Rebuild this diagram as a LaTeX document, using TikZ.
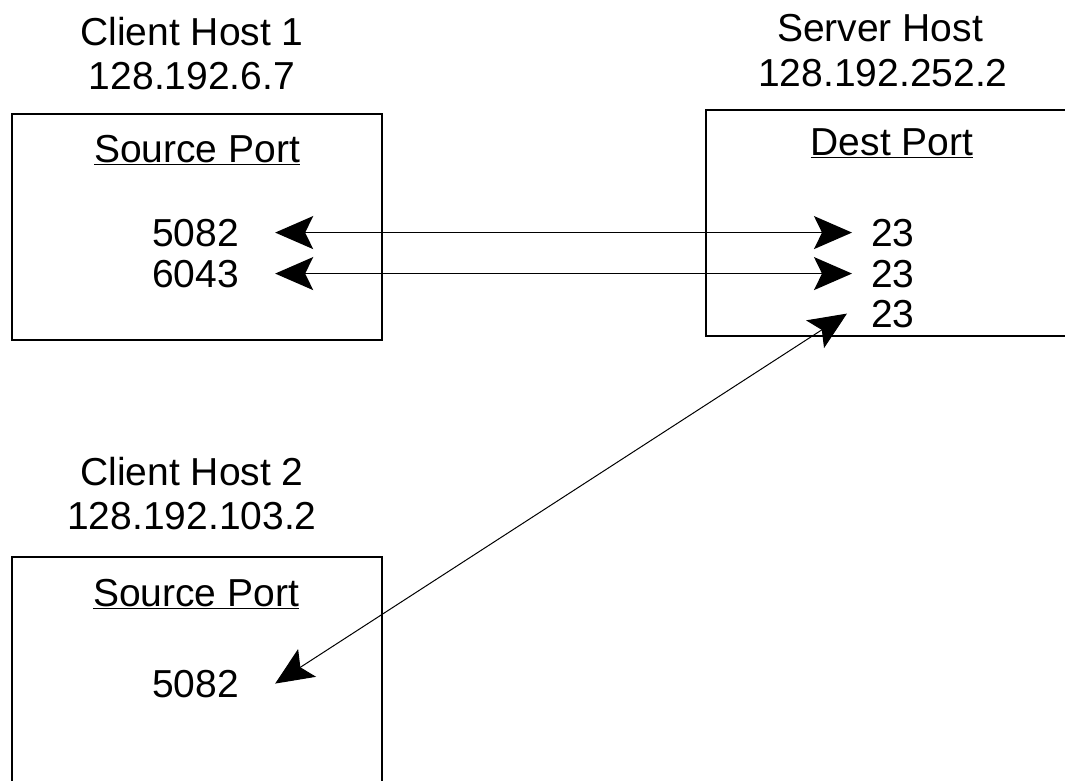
\documentclass[tikz,border=0pt]{standalone}
\usepackage{fontspec}
\setmainfont{Liberation Sans}
\usetikzlibrary{arrows.meta,positioning}
\newcommand{\portfont}{\fontsize{39}{45}\selectfont}
\tikzset{
  hostbox/.style={draw, line width=1.6pt, inner sep=0pt, anchor=north west,
                  minimum width=#1, minimum height=226pt},
  hosttxt/.style={font=\portfont, inner sep=0pt, anchor=base},
  porttxt/.style={font=\portfont, inner sep=0pt, anchor=base west},
  link/.style={{Stealth[length=38pt,width=33pt,inset=8pt]}-{Stealth[length=38pt,width=33pt,inset=8pt]},
               line width=#1},
}

\begin{document}
\begin{tikzpicture}[x=1pt, y=-1pt]
\useasboundingbox (0,0) rectangle (1065,780);

% Client host 1
\node[hosttxt] (c1name) at (192,45) {Client Host 1};
\node[hosttxt] (c1addr) at (192,89) {128.192.6.7};
\node[hostbox=370pt] (host1) at (11,113) {};
\node[hosttxt] (src1) at (197,162) {\underline{Source Port}};
\node[porttxt] (p5082) at (152,246) {5082};
\node[porttxt] (p6043) at (152,287) {6043};

% Server host
\node[hosttxt] (sname) at (880,41) {Server Host};
\node[hosttxt] (saddr) at (883,86) {128.192.252.2};
\node[hostbox=500pt] (server) at (705,109) {};
\node[hosttxt] (dst) at (892,155) {\underline{Dest Port}};
\node[porttxt] (d23a) at (871,246) {23};
\node[porttxt] (d23b) at (871,287) {23};
\node[porttxt] (d23c) at (871,327) {23};

% Client host 2
\node[hosttxt] (c2name) at (192,485) {Client Host 2};
\node[hosttxt] (c2addr) at (192,529) {128.192.103.2};
\node[hostbox=370pt, minimum height=300pt] (host2) at (11,556) {};
\node[hosttxt] (src2) at (196,606) {\underline{Source Port}};
\node[porttxt] (q5082) at (152,697) {5082};

% Connections
\draw[link=1.6pt] ([xshift=36pt]p5082.east) -- ([xshift=-19pt]d23a.west);
\draw[link=1.6pt] ([xshift=36pt]p6043.east) -- ([xshift=-19pt]d23b.west);
\draw[link=1pt] ([xshift=36pt]q5082.east) -- ([xshift=-24pt]d23c.west);

\end{tikzpicture}
\end{document}
